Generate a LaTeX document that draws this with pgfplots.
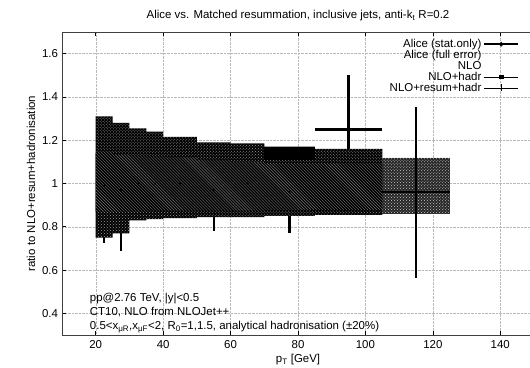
\documentclass[border=0pt]{standalone}
\usepackage{fontspec}
\setmainfont{Liberation Sans}
\usepackage{pgfplots}
\pgfplotsset{compat=1.18}
\usetikzlibrary{patterns}
\newcommand{\fs}{\fontsize{11.5}{13}\selectfont}
\begin{document}
\fs
\begin{tikzpicture}
\useasboundingbox (0,0) rectangle (530bp,368bp);
\clip (0,0) rectangle (530bp,368bp);
\begin{axis}[
  at={(62bp,33bp)}, anchor=south west,
  scale only axis, width=472bp, height=303bp,
  xmin=10, xmax=150, ymin=0.3, ymax=1.7,
  xtick={20,40,60,80,100,120,140},
  ytick={0.4,0.6,0.8,1,1.2,1.4,1.6},
  tick align=inside, major tick length=4bp,
  tick style={black, line width=0.6pt},
  axis line style={black!75, line width=0.9pt},
  grid=major, grid style={densely dotted, gray!55, line width=0.3pt},
  /pgf/number format/assume math mode=true,
  ticklabel style={font=\fs},
  xticklabel style={yshift=-1bp},
  title={Alice vs. Matched resummation, inclusive jets, anti-k\textsubscript{t} R=0.2},
  title style={font=\fs, yshift=1bp},
  xlabel={p\textsubscript{T} [GeV]},
  ylabel={ratio to NLO+resum+hadronisation},
  label style={font=\fs},
  xlabel style={yshift=2bp},
  ylabel style={yshift=-1bp},
  legend plot pos=right, legend cell align=right,
  legend style={at={(0.975,0.99)}, anchor=north east, draw=none, fill=none,
    row sep=-3pt, font=\fs},
  legend image code/.code={\draw[mark repeat=2,mark phase=2,#1] plot coordinates {(0bp,0bp)(17bp,0bp)(34bp,0bp)};},
  alice/.style={black, only marks, mark=*, mark size=0.8pt, forget plot,
    error bars/.cd, x dir=both, x explicit, y dir=both, y explicit,
    error mark=none, error bar style={line width=2.3pt}},
]
% Alice data (stat errors), bins up to 105 GeV, partly hidden by the bands
\addplot[alice] table[x=x, y=y, x error=ex, y error=ey] {
  x     ex   y     ey
  22.5  2.5  0.99  0.265
  27.5  2.5  0.97  0.28
  32.5  2.5  1.00  0.15
  37.5  2.5  1.00  0.15
  45    5    1.00  0.15
  55    5    0.97  0.19
  65    5    1.00  0.15
  77.5  7.5  0.96  0.19
  95    10   1.25  0.25
};
% outer band (NLO+hadr), 20-105
\addplot[fill=black, draw=none, forget plot,
  postaction={pattern=crosshatch dots, pattern color=white!60!black}] coordinates {
  (20,0.75)(20,1.31)(25,1.31)(25,1.28)(30,1.28)(30,1.255)(35,1.255)(35,1.24)(40,1.24)(40,1.215)
  (50,1.215)(50,1.19)(60,1.19)(60,1.185)(70,1.185)(70,1.17)(85,1.17)(85,1.16)(105,1.16)
  (105,0.855)(85,0.855)(85,0.85)(70,0.85)(70,0.845)(50,0.845)
  (50,0.84)(40,0.84)(40,0.835)(35,0.835)(35,0.83)(30,0.83)(30,0.77)(25,0.77)(25,0.75)} -- cycle;
% outer band, 105-125 (lighter)
\addplot[fill=black!85, draw=none, forget plot,
  postaction={pattern=crosshatch dots, pattern color=white!80!black}] coordinates {
  (105,0.86)(105,1.12)(125,1.12)(125,0.86)} -- cycle;
% inner band (NLO+resum+hadr)
\addplot[fill=black, draw=none, forget plot,
  postaction={pattern=north west lines, pattern color=white!45!black}] coordinates {
  (20,0.87)(20,1.14)(25,1.14)(25,1.135)(30,1.135)(30,1.13)(35,1.13)(35,1.125)(40,1.125)(40,1.12)
  (50,1.12)(50,1.11)(60,1.11)(60,1.10)(70,1.10)(70,1.09)(105,1.09)(105,0.88)(70,0.88)(70,0.875)
  (35,0.875)(35,0.87)} -- cycle;
% dark box in 70-85 bin
\addplot[fill=black, draw=none, forget plot] coordinates {(70,1.11)(85,1.11)(85,1.17)(70,1.17)} -- cycle;
% Alice data, last bin
\addplot[alice] table[x=x, y=y, x error=ex, y error=ey] {
  x     ex   y     ey
  115   10   0.96  0.395
};
\addlegendimage{black, line width=1.6pt, mark=*, mark size=1.3pt}
\addlegendentry{Alice (stat.only)}
\addlegendimage{empty legend}
\addlegendentry{Alice (full error)}
\addlegendimage{empty legend}
\addlegendentry{NLO}
\addlegendimage{black, line width=0.6pt, mark=square*, mark size=1.6pt}
\addlegendentry{NLO+hadr}
\addlegendimage{black, line width=0.6pt, mark=+, mark size=3.5pt, mark options={line width=0.8pt}}
\addlegendentry{NLO+resum+hadr}
\node[anchor=base west] at (axis cs:17.1,0.457) {pp@2.76 TeV, |y|<0.5};
\node[anchor=base west] at (axis cs:17.1,0.392) {CT10, NLO from NLOJet++};
\node[anchor=base west] at (axis cs:17.1,0.325) {0.5<x\textsubscript{μR},x\textsubscript{μF}<2, R\textsubscript{0}=1,1.5, analytical hadronisation (±20\%)};
\end{axis}
\end{tikzpicture}
\end{document}
